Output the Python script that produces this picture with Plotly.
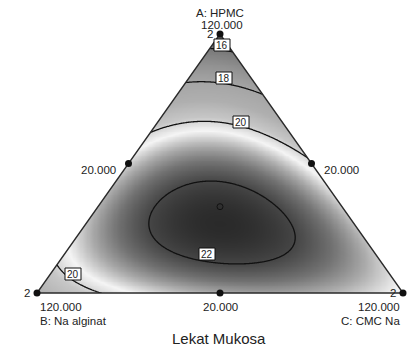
import numpy as np
import plotly.graph_objects as go

W, H = 417, 346
FONT = "Liberation Sans, Arial, sans-serif"
INK = "#222222"

# ---- mixture setup (real units) ----
comp_low = [20.0, 20.0, 20.0]
comp_span = 100.0

# special-cubic Scheffe model in pseudo components (A, B, C)
coef_linear = [15.0, 19.0, 20.3]
coef_ab = 14.77
coef_ac = 9.9
coef_bc = 5.39
coef_abc = 25.5

contour_levels = [16, 18, 20, 22]

# grey shading of the response surface
shade_z = [15.0, 16.0, 17.0, 18.0, 19.0, 19.8, 20.4, 21.0, 21.5, 22.0, 22.5]
shade_grey = [95, 120, 145, 165, 175, 198, 245, 170, 115, 70, 40]

# design points (real units) and replicate counts
design_A = [120, 20, 20, 70, 70, 20, 53.333]
design_B = [20, 120, 20, 70, 20, 70, 53.333]
design_C = [20, 20, 120, 20, 70, 70, 53.333]
design_reps = [2, 2, 2, 1, 1, 1, 1]

# contour label positions (pixel centres) and texts
label_text = ["16", "18", "20", "22", "20"]
label_px = [(222, 45), (224, 78), (241, 122), (207, 254), (73, 274)]

# ---- pixel <-> data mapping: B=(0,0), C=(1,0), A=(0.5,1) ----
X0, XS = 37.0, 366.0
Y0, YS = 293.0, 259.0
x_range = [-X0 / XS, (W - X0) / XS]
y_range = [(Y0 - H) / YS, Y0 / YS]


def tern_xy(a, b, c):
    a, b, c = np.asarray(a, float), np.asarray(b, float), np.asarray(c, float)
    s = a + b + c
    a, c = a / s, c / s
    return c + a / 2.0, a


def pseudo(v, i):
    return (np.asarray(v, float) - comp_low[i]) / comp_span


def model(a, b, c):
    return (coef_linear[0] * a + coef_linear[1] * b + coef_linear[2] * c
            + coef_ab * a * b + coef_ac * a * c + coef_bc * b * c
            + coef_abc * a * b * c)


def px(xp):
    return xp / W


def py(yp):
    return 1 - yp / H


# ---- response grid ----
gx = np.linspace(-0.01, 1.01, 320)
gy = np.linspace(-0.01, 1.01, 320)
GX, GY = np.meshgrid(gx, gy)
ga = GY
gc = GX - GY / 2.0
gb = 1.0 - ga - gc
Z = model(ga, gb, gc)

zmin, zmax = shade_z[0], shade_z[-1]
colorscale = [[(z - zmin) / (zmax - zmin), f"rgb({g},{g},{g})"]
              for z, g in zip(shade_z, shade_grey)]

fig = go.Figure()
fig.add_trace(go.Heatmap(x=gx, y=gy, z=Z, colorscale=colorscale, zmin=zmin,
                         zmax=zmax, zsmooth="best", showscale=False,
                         hoverinfo="skip"))
fig.add_trace(go.Contour(x=gx, y=gy, z=Z, showscale=False, hoverinfo="skip",
                         contours=dict(coloring="none", start=contour_levels[0],
                                       end=contour_levels[-1],
                                       size=contour_levels[1] - contour_levels[0]),
                         line=dict(color="#111111", width=1.3)))

# white masks outside the simplex
xl, xr = x_range
yb, yt = y_range
masks = [
    ([xl, xr, xr, xl], [yb, yb, 0, 0]),
    ([xl, 0, 0.5, 0.5, xl], [0, 0, 1, yt, yt]),
    ([1, xr, xr, 0.5, 0.5], [0, 0, yt, yt, 1]),
]
for mx, my in masks:
    fig.add_trace(go.Scatter(x=mx, y=my, fill="toself", fillcolor="white",
                             mode="none", hoverinfo="skip", showlegend=False))

# simplex outline
tx, ty = tern_xy([0, 0, 1, 0], [1, 0, 0, 1], [0, 1, 0, 0])
fig.add_trace(go.Scatter(x=tx, y=ty, mode="lines",
                         line=dict(color="#2a2a2a", width=1.3),
                         hoverinfo="skip", showlegend=False))

# design points
pa = pseudo(design_A, 0)
pb = pseudo(design_B, 1)
pc = pseudo(design_C, 2)
dx, dy = tern_xy(pa, pb, pc)
is_center = (np.abs(pa - pb) < 1e-3) & (np.abs(pb - pc) < 1e-3)
fig.add_trace(go.Scatter(x=dx[~is_center], y=dy[~is_center], mode="markers",
                         marker=dict(size=7, color="#111111"),
                         hoverinfo="skip", showlegend=False))
fig.add_trace(go.Scatter(x=dx[is_center], y=dy[is_center], mode="markers",
                         marker=dict(size=6, color="rgba(0,0,0,0)",
                                     line=dict(color="#111111", width=1)),
                         hoverinfo="skip", showlegend=False))

annotations = []
shapes = []


def text(x, y, s, size=11.5, xanchor="center"):
    annotations.append(dict(x=px(x), y=py(y), xref="paper", yref="paper",
                            text=s, showarrow=False, xanchor=xanchor,
                            yanchor="middle",
                            font=dict(family=FONT, size=size, color=INK)))


# replicate markers
for xi, yi, r in zip(dx, dy, design_reps):
    if r > 1:
        xp = X0 + XS * xi
        yp = Y0 - YS * yi
        annotations.append(dict(x=px(xp - 5), y=py(yp), xref="paper",
                                yref="paper", text=str(r), showarrow=False,
                                xanchor="right", yanchor="middle",
                                font=dict(family=FONT, size=11.5, color=INK)))

# contour level labels
for s, (lx, ly) in zip(label_text, label_px):
    shapes.append(dict(type="rect", xref="paper", yref="paper",
                       x0=px(lx - 8), x1=px(lx + 8),
                       y0=py(ly + 6), y1=py(ly - 6),
                       line=dict(color="#111111", width=1), fillcolor="white",
                       layer="above"))
    text(lx, ly + 0.5, s, size=10)

# axis texts
text(220, 13, "A: HPMC")
text(222, 25, "120.000")
text(38, 307, "120.000", xanchor="left")
text(38, 321, "B: Na alginat", xanchor="left")
text(402, 307, "120.000", xanchor="right")
text(402, 321, "C: CMC Na", xanchor="right")
text(220, 307, "20.000")
text(118, 170, "20.000", xanchor="right")
text(322, 170, "20.000", xanchor="left")
text(219, 338, "Lekat Mukosa", size=15)

fig.update_layout(
    width=W, height=H, autosize=False,
    margin=dict(l=0, r=0, t=0, b=0),
    paper_bgcolor="white", plot_bgcolor="white",
    xaxis=dict(range=x_range, visible=False, fixedrange=True),
    yaxis=dict(range=y_range, visible=False, fixedrange=True),
    showlegend=False,
    annotations=annotations,
    shapes=shapes,
)

fig.write_html("out.html")
